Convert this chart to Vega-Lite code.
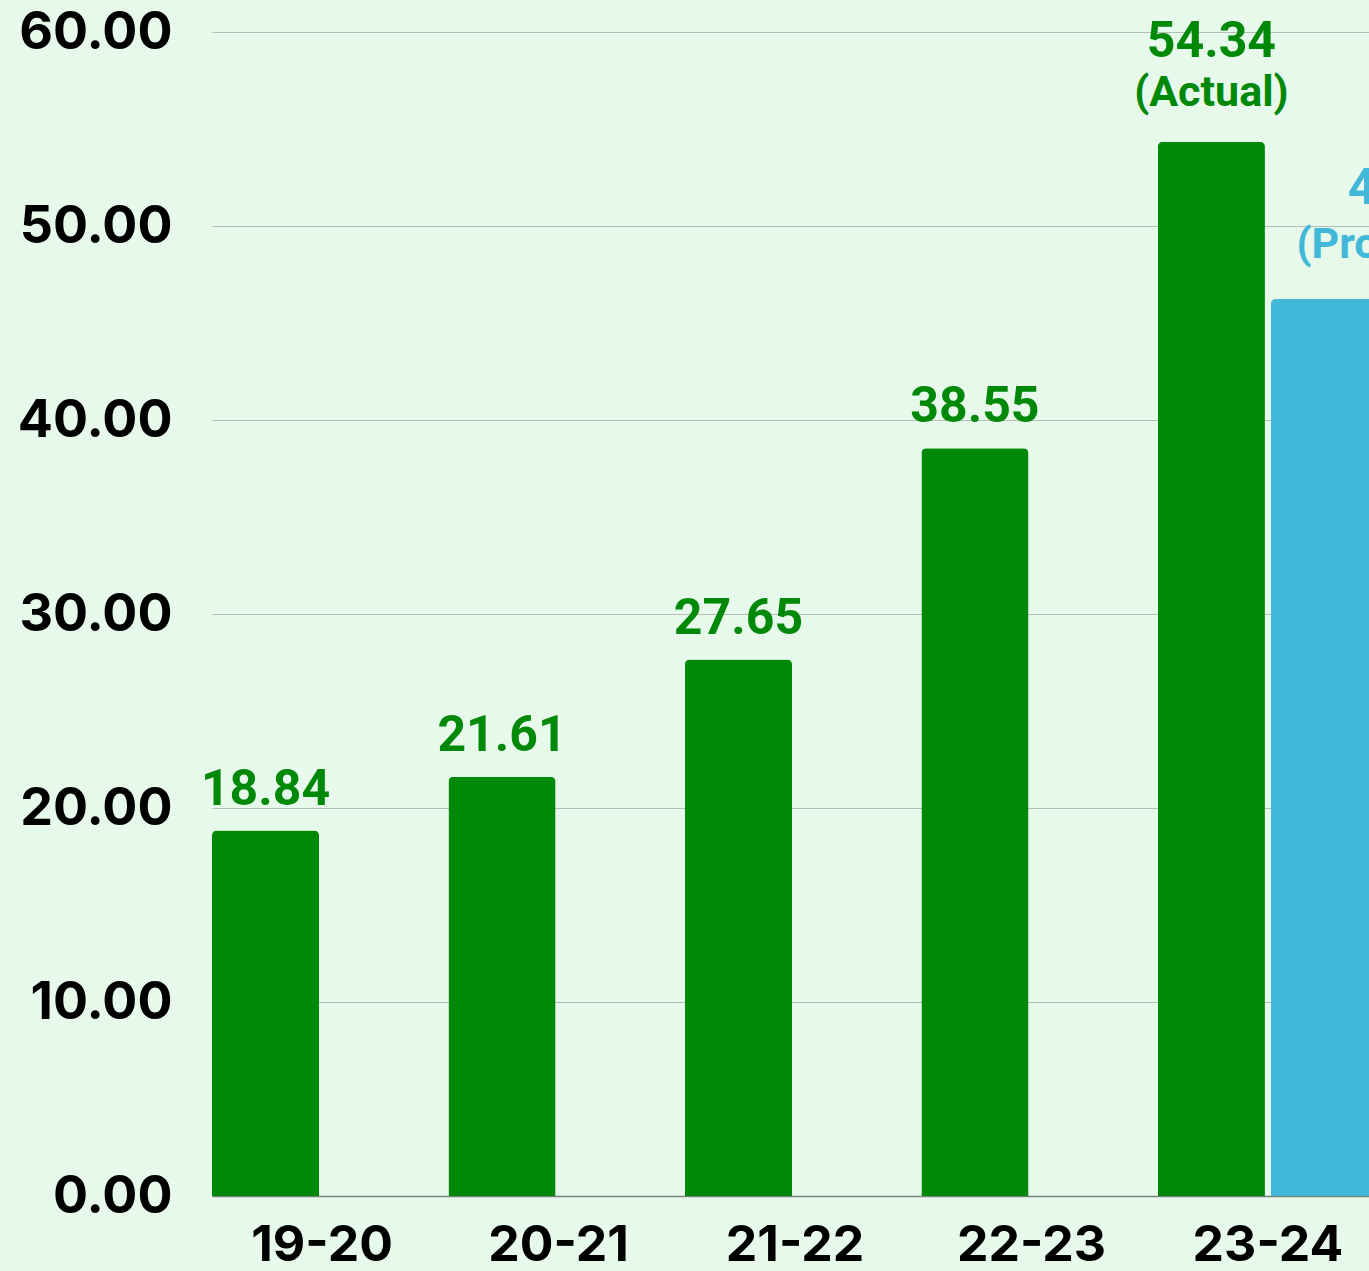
{
  "$schema": "https://vega.github.io/schema/vega-lite/v6.json",
  "width": 1166,
  "height": 1164,
  "autosize": {"type": "none"},
  "padding": {"left": 212, "top": 32, "right": 0, "bottom": 75},
  "background": "#E6F9EA",
  "config": {"view": {"stroke": null}},
  "data": {
    "values": [
      {"year": "19-20", "series": "Actual", "value": 18.84, "label": "18.84", "note": "", "kind": "single"},
      {"year": "20-21", "series": "Actual", "value": 21.61, "label": "21.61", "note": "", "kind": "single"},
      {"year": "21-22", "series": "Actual", "value": 27.65, "label": "27.65", "note": "", "kind": "single"},
      {"year": "22-23", "series": "Actual", "value": 38.55, "label": "38.55", "note": "", "kind": "single"},
      {"year": "23-24", "series": "Actual", "value": 54.34, "label": "54.34", "note": "(Actual)", "kind": "double"},
      {"year": "23-24", "series": "Projected", "value": 46.24, "label": "46.24", "note": "(Projected)", "kind": "projected"}
    ]
  },
  "encoding": {
    "x": {
      "field": "year", "type": "nominal", "sort": null,
      "scale": {"paddingInner": 0.069, "paddingOuter": 0},
      "axis": {
        "title": null, "labelAngle": 0, "ticks": false,
        "domainColor": "#7a7f7a", "domainWidth": 1.5,
        "labelFont": "Inter", "labelFontWeight": 700, "labelFontSize": 50,
        "labelColor": "#000000", "labelPadding": 24, "grid": false
      }
    },
    "xOffset": {
      "field": "series", "type": "nominal",
      "scale": {"domain": ["Actual", "Projected"], "paddingInner": 0.053, "paddingOuter": 0}
    },
    "y": {
      "field": "value", "type": "quantitative",
      "scale": {"domain": [0, 60], "nice": false},
      "axis": {
        "title": null, "values": [0, 10, 20, 30, 40, 50, 60], "format": ".2f",
        "ticks": false, "domain": false,
        "grid": true, "gridColor": "#b4bcb4", "gridWidth": 1.2,
        "labelFont": "Inter", "labelFontWeight": 700, "labelFontSize": 52,
        "labelColor": "#000000", "labelPadding": 40, "labelBaseline": "middle"
      }
    }
  },
  "layer": [
    {
      "mark": {"type": "bar", "cornerRadiusTopLeft": 5, "cornerRadiusTopRight": 5},
      "encoding": {
        "color": {
          "field": "series", "type": "nominal",
          "scale": {"domain": ["Actual", "Projected"], "range": ["#008808", "#42B8D8"]},
          "legend": null
        }
      }
    },
    {
      "transform": [{"filter": "datum.kind == 'single'"}],
      "mark": {"type": "text", "font": "Roboto", "fontWeight": 700, "fontSize": 50, "color": "#008808", "baseline": "bottom", "dy": -16},
      "encoding": {"text": {"field": "label"}}
    },
    {
      "transform": [{"filter": "datum.kind == 'double'"}],
      "mark": {"type": "text", "font": "Roboto", "fontWeight": 700, "fontSize": 50, "color": "#008808", "baseline": "bottom", "dy": -75},
      "encoding": {"text": {"field": "label"}}
    },
    {
      "transform": [{"filter": "datum.kind == 'double'"}],
      "mark": {"type": "text", "font": "Roboto", "fontWeight": 700, "fontSize": 43, "color": "#008808", "baseline": "bottom", "dy": -27},
      "encoding": {"text": {"field": "note"}}
    },
    {
      "transform": [{"filter": "datum.kind == 'projected'"}],
      "mark": {"type": "text", "font": "Roboto", "fontWeight": 700, "fontSize": 50, "color": "#42B8D8", "baseline": "bottom", "dy": -85, "dx": 88},
      "encoding": {"text": {"field": "label"}}
    },
    {
      "transform": [{"filter": "datum.kind == 'projected'"}],
      "mark": {"type": "text", "font": "Roboto", "fontWeight": 700, "fontSize": 43, "color": "#42B8D8", "baseline": "bottom", "dy": -32, "dx": 80},
      "encoding": {"text": {"field": "note"}}
    }
  ]
}
